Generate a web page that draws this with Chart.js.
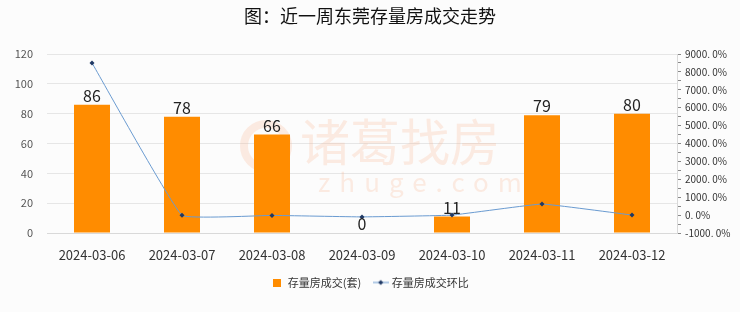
<!DOCTYPE html>
<html>
<head>
<meta charset="utf-8">
<script src="https://cdn.jsdelivr.net/npm/chart.js@4"></script>
<style>
  html, body { margin: 0; padding: 0; background: #fcfcfc; }
  #wrap { width: 740px; height: 312px; position: relative; }
</style>
</head>
<body>
<div id="wrap"><canvas id="c"></canvas></div>
<script>
// 数据
const dates = ['2024-03-06', '2024-03-07', '2024-03-08', '2024-03-09', '2024-03-10', '2024-03-11', '2024-03-12'];
const deals = [86, 78, 66, 0, 11, 79, 80];
const dealsChange = [8500, -9.3, -15.4, -100, 0, 618.2, 1.3];   // 环比 %
const titleText = '图：近一周东莞存量房成交走势';

const FONT = "'Noto Sans CJK SC', 'Noto Sans', sans-serif";
const BAR = '#ff8c00';
const LINE = '#6a9bd1';
const MARK = '#1f3864';

// 图例里折线的小图标
const lineIcon = document.createElement('canvas');
lineIcon.width = 16; lineIcon.height = 8;
(function () {
    const g = lineIcon.getContext('2d');
    g.strokeStyle = LINE; g.lineWidth = 1;
    g.beginPath(); g.moveTo(0, 4); g.lineTo(16, 4); g.stroke();
    g.fillStyle = MARK;
    g.beginPath(); g.moveTo(8, 1.5); g.lineTo(10.5, 4); g.lineTo(8, 6.5); g.lineTo(5.5, 4); g.closePath(); g.fill();
})();

// 图例里柱子的小方块
const barIcon = document.createElement('canvas');
barIcon.width = 8; barIcon.height = 8;
(function () {
    const g = barIcon.getContext('2d');
    g.fillStyle = BAR;
    g.fillRect(0, 0, 8, 8);
})();

const bgAndMark = {
    id: 'bgAndMark',
    beforeDraw(chart) {
        const { ctx, width, height } = chart;
        ctx.save();
        ctx.fillStyle = '#fcfcfc';
        ctx.fillRect(0, 0, width, height);
        // 标题
        ctx.fillStyle = '#111';
        ctx.font = '18px ' + FONT;
        ctx.textAlign = 'center';
        ctx.textBaseline = 'middle';
        ctx.fillText(titleText, width / 2, 16);
        ctx.restore();
    },
    beforeDatasetsDraw(chart) {
        // 水印
        const ctx = chart.ctx;
        ctx.save();
        ctx.fillStyle = 'rgba(250, 175, 130, 0.22)';
        ctx.textAlign = 'left';
        ctx.textBaseline = 'middle';
        ctx.font = '50px ' + FONT;
        ctx.fillText('诸葛找房', 300, 142);
        ctx.font = '26px ' + FONT;
        ctx.letterSpacing = '9px';
        ctx.fillText('zhuge.com', 318, 182);
        ctx.letterSpacing = '0px';
        ctx.beginPath();
        ctx.arc(266, 146, 22, 0, Math.PI * 2);
        ctx.lineWidth = 8;
        ctx.strokeStyle = 'rgba(250, 175, 130, 0.22)';
        ctx.stroke();
        ctx.restore();
    }
};

const barLabels = {
    id: 'barLabels',
    afterDatasetsDraw(chart) {
        const ctx = chart.ctx;
        const meta = chart.getDatasetMeta(1);
        ctx.save();
        ctx.fillStyle = '#222';
        ctx.font = '16px ' + FONT;
        ctx.textAlign = 'center';
        ctx.textBaseline = 'bottom';
        meta.data.forEach((el, i) => {
            ctx.fillText(String(deals[i]), el.x, el.y - 1);
        });
        ctx.restore();
    }
};

new Chart(document.getElementById('c'), {
    data: {
        labels: dates,
        datasets: [
            {
                type: 'line',
                label: '存量房成交环比',
                data: dealsChange,
                yAxisID: 'y1',
                borderColor: LINE,
                borderWidth: 1,
                backgroundColor: MARK,
                pointStyle: 'rectRot',
                pointRadius: 2.5,
                pointBorderWidth: 0,
                tension: 0.08,
                order: 0
            },
            {
                type: 'bar',
                label: '存量房成交(套)',
                data: deals,
                yAxisID: 'y',
                backgroundColor: BAR,
                categoryPercentage: 0.8,
                barPercentage: 0.5,
                order: 1
            }
        ]
    },
    options: {
        responsive: true,
        maintainAspectRatio: false,
        animation: false,
        layout: { padding: { top: 54, left: 0, right: 0, bottom: 14 } },
        plugins: {
            tooltip: { enabled: false },
            legend: {
                position: 'bottom',
                labels: {
                    usePointStyle: true,
                    font: { family: FONT, size: 11 },
                    color: '#333',
                    padding: 14,
                    generateLabels(chart) {
                        return [
                            { text: '存量房成交(套)', pointStyle: barIcon, fillStyle: BAR, strokeStyle: BAR, lineWidth: 0, datasetIndex: 1, fontColor: '#333' },
                            { text: '存量房成交环比', pointStyle: lineIcon, fillStyle: MARK, strokeStyle: MARK, lineWidth: 0, datasetIndex: 0, fontColor: '#333' }
                        ];
                    }
                }
            }
        },
        scales: {
            x: {
                grid: { display: false },
                border: { color: '#d9d9d9' },
                ticks: { color: '#333', font: { family: FONT, size: 13 }, maxRotation: 0, padding: 6 },
                afterFit(s) { s.height = 30; }
            },
            y: {
                position: 'left',
                min: 0, max: 120,
                ticks: { stepSize: 20, color: '#555', font: { family: FONT, size: 11 }, padding: 14 },
                grid: { color: '#e6e6e6', drawTicks: false },
                border: { display: false },
                afterFit(s) { s.width = 47; }
            },
            y1: {
                position: 'right',
                min: -1000, max: 9000,
                ticks: {
                    stepSize: 500,
                    color: '#333',
                    font: { family: FONT, size: 10 },
                    padding: 4,
                    autoSkip: false,
                    callback: v => (v % 1000 === 0 ? v.toFixed(1).replace('.', '. ') + '%' : '')
                },
                grid: { drawOnChartArea: false, tickLength: 4, color: '#888' },
                border: { color: '#d9d9d9' },
                afterFit(s) { s.width = 63; }
            }
        }
    },
    plugins: [bgAndMark, barLabels]
});
</script>
</body>
</html>
